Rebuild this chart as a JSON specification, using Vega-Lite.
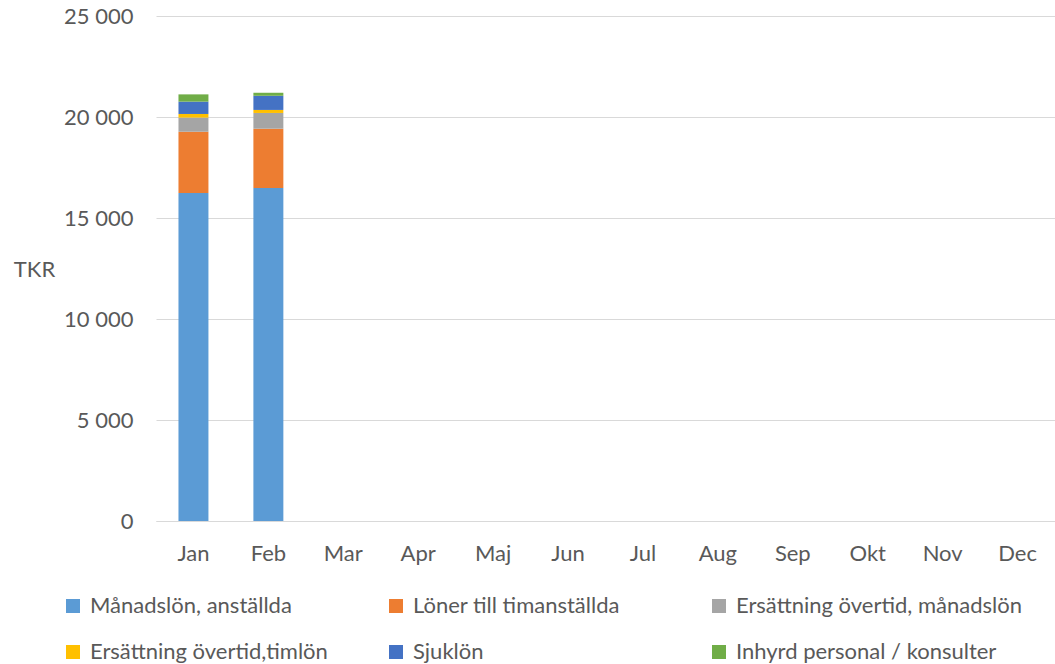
{
  "$schema": "https://vega.github.io/schema/vega-lite/v6.json",
  "width": 899,
  "height": 505,
  "autosize": {"type": "none"},
  "padding": {"left": 156, "top": 16, "right": 0, "bottom": 143},
  "background": "white",
  "config": {
    "font": "Lato",
    "view": {"stroke": null}
  },
  "data": {
    "values": [
      {"manad": "Jan", "kategori": "Månadslön, anställda", "ordning": 1, "tkr": 16240},
      {"manad": "Jan", "kategori": "Löner till timanställda", "ordning": 2, "tkr": 3030},
      {"manad": "Jan", "kategori": "Ersättning övertid, månadslön", "ordning": 3, "tkr": 700},
      {"manad": "Jan", "kategori": "Ersättning övertid,timlön", "ordning": 4, "tkr": 180},
      {"manad": "Jan", "kategori": "Sjuklön", "ordning": 5, "tkr": 610},
      {"manad": "Jan", "kategori": "Inhyrd personal / konsulter", "ordning": 6, "tkr": 360},
      {"manad": "Feb", "kategori": "Månadslön, anställda", "ordning": 1, "tkr": 16490},
      {"manad": "Feb", "kategori": "Löner till timanställda", "ordning": 2, "tkr": 2930},
      {"manad": "Feb", "kategori": "Ersättning övertid, månadslön", "ordning": 3, "tkr": 780},
      {"manad": "Feb", "kategori": "Ersättning övertid,timlön", "ordning": 4, "tkr": 150},
      {"manad": "Feb", "kategori": "Sjuklön", "ordning": 5, "tkr": 700},
      {"manad": "Feb", "kategori": "Inhyrd personal / konsulter", "ordning": 6, "tkr": 150}
    ]
  },
  "mark": {"type": "bar"},
  "encoding": {
    "x": {
      "field": "manad",
      "type": "nominal",
      "scale": {
        "domain": ["Jan", "Feb", "Mar", "Apr", "Maj", "Jun", "Jul", "Aug", "Sep", "Okt", "Nov", "Dec"],
        "paddingInner": 0.6,
        "paddingOuter": 0.3
      },
      "axis": {
        "title": null,
        "labelAngle": 0,
        "labelFontSize": 22,
        "labelColor": "#595959",
        "labelBaseline": "alphabetic",
        "labelPadding": 39,
        "ticks": false,
        "domainColor": "#d9d9d9",
        "domainWidth": 1
      }
    },
    "y": {
      "field": "tkr",
      "type": "quantitative",
      "aggregate": "sum",
      "stack": "zero",
      "scale": {"domain": [0, 25000], "nice": false},
      "axis": {
        "title": "TKR",
        "titleAngle": 0,
        "titleFontWeight": "normal",
        "titleFontSize": 22,
        "titleColor": "#595959",
        "titleX": -122,
        "titleY": 253,
        "titleAlign": "center",
        "titleBaseline": "middle",
        "values": [0, 5000, 10000, 15000, 20000, 25000],
        "labelExpr": "replace(format(datum.value, ','), ',', ' ')",
        "labelFontSize": 22,
        "labelColor": "#595959",
        "labelPadding": 23,
        "ticks": false,
        "domain": false,
        "gridColor": "#d9d9d9",
        "gridWidth": 1
      }
    },
    "color": {
      "field": "kategori",
      "type": "nominal",
      "scale": {
        "domain": ["Månadslön, anställda", "Löner till timanställda", "Ersättning övertid, månadslön", "Ersättning övertid,timlön", "Sjuklön", "Inhyrd personal / konsulter"],
        "range": ["#5B9BD5", "#ED7D31", "#A5A5A5", "#FFC000", "#4472C4", "#70AD47"]
      },
      "legend": {
        "title": null,
        "orient": "none",
        "legendX": -94,
        "legendY": 579,
        "direction": "horizontal",
        "columns": 3,
        "gridAlign": "all",
        "columnPadding": 9,
        "rowPadding": 24,
        "symbolType": "square",
        "symbolSize": 196,
        "symbolStrokeWidth": 0,
        "labelFontSize": 22,
        "labelColor": "#595959",
        "labelOffset": 6,
        "labelLimit": 400
      }
    },
    "order": {"field": "ordning", "type": "quantitative", "sort": "ascending"}
  }
}
